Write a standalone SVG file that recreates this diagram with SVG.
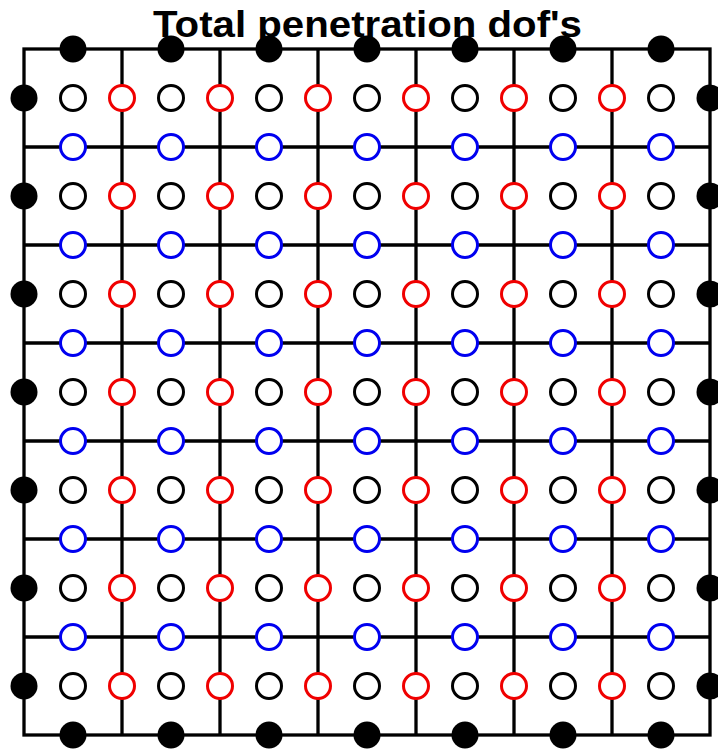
<svg xmlns="http://www.w3.org/2000/svg" width="718" height="749" viewBox="0 0 718 749">
<style>
.ln{stroke:#000;stroke-width:3.3;fill:none}
.f{fill:#000}
.k{fill:#fff;stroke:#000;stroke-width:3}
.r{fill:#fff;stroke:#f00000;stroke-width:3}
.b{fill:#fff;stroke:#0000f0;stroke-width:3}
.t{font-family:"Liberation Sans",Arial,sans-serif;font-weight:bold;font-size:37px;fill:#000}
</style>
<rect width="718" height="749" fill="#fff"/>
<g id="connectors">
<rect class="ln" x="24" y="49" width="686" height="686"/>
<path class="ln" d="M122 49V735M220 49V735M318 49V735M416 49V735M514 49V735M612 49V735M24 147H710M24 245H710M24 343H710M24 441H710M24 539H710M24 637H710"/>
</g>
<g id="nodes-top">
<g id="t1"><circle class="f" cx="73" cy="49" r="13.5"/></g>
<g id="t2"><circle class="f" cx="171" cy="49" r="13.5"/></g>
<g id="t3"><circle class="f" cx="269" cy="49" r="13.5"/></g>
<g id="t4"><circle class="f" cx="367" cy="49" r="13.5"/></g>
<g id="t5"><circle class="f" cx="465" cy="49" r="13.5"/></g>
<g id="t6"><circle class="f" cx="563" cy="49" r="13.5"/></g>
<g id="t7"><circle class="f" cx="661" cy="49" r="13.5"/></g>
</g>
<g id="nodes-bottom">
<g id="bt1"><circle class="f" cx="73" cy="735" r="13.5"/></g>
<g id="bt2"><circle class="f" cx="171" cy="735" r="13.5"/></g>
<g id="bt3"><circle class="f" cx="269" cy="735" r="13.5"/></g>
<g id="bt4"><circle class="f" cx="367" cy="735" r="13.5"/></g>
<g id="bt5"><circle class="f" cx="465" cy="735" r="13.5"/></g>
<g id="bt6"><circle class="f" cx="563" cy="735" r="13.5"/></g>
<g id="bt7"><circle class="f" cx="661" cy="735" r="13.5"/></g>
</g>
<g id="nodes-left">
<g id="l1"><circle class="f" cx="24" cy="98" r="13.5"/></g>
<g id="l2"><circle class="f" cx="24" cy="196" r="13.5"/></g>
<g id="l3"><circle class="f" cx="24" cy="294" r="13.5"/></g>
<g id="l4"><circle class="f" cx="24" cy="392" r="13.5"/></g>
<g id="l5"><circle class="f" cx="24" cy="490" r="13.5"/></g>
<g id="l6"><circle class="f" cx="24" cy="588" r="13.5"/></g>
<g id="l7"><circle class="f" cx="24" cy="686" r="13.5"/></g>
</g>
<g id="nodes-right">
<g id="rt1"><circle class="f" cx="710" cy="98" r="13.5"/></g>
<g id="rt2"><circle class="f" cx="710" cy="196" r="13.5"/></g>
<g id="rt3"><circle class="f" cx="710" cy="294" r="13.5"/></g>
<g id="rt4"><circle class="f" cx="710" cy="392" r="13.5"/></g>
<g id="rt5"><circle class="f" cx="710" cy="490" r="13.5"/></g>
<g id="rt6"><circle class="f" cx="710" cy="588" r="13.5"/></g>
<g id="rt7"><circle class="f" cx="710" cy="686" r="13.5"/></g>
</g>
<g id="nodes-black">
<g id="k1-1"><circle class="k" cx="73" cy="98" r="12.5"/></g><g id="k1-2"><circle class="k" cx="171" cy="98" r="12.5"/></g><g id="k1-3"><circle class="k" cx="269" cy="98" r="12.5"/></g><g id="k1-4"><circle class="k" cx="367" cy="98" r="12.5"/></g><g id="k1-5"><circle class="k" cx="465" cy="98" r="12.5"/></g><g id="k1-6"><circle class="k" cx="563" cy="98" r="12.5"/></g><g id="k1-7"><circle class="k" cx="661" cy="98" r="12.5"/></g>
<g id="k2-1"><circle class="k" cx="73" cy="196" r="12.5"/></g><g id="k2-2"><circle class="k" cx="171" cy="196" r="12.5"/></g><g id="k2-3"><circle class="k" cx="269" cy="196" r="12.5"/></g><g id="k2-4"><circle class="k" cx="367" cy="196" r="12.5"/></g><g id="k2-5"><circle class="k" cx="465" cy="196" r="12.5"/></g><g id="k2-6"><circle class="k" cx="563" cy="196" r="12.5"/></g><g id="k2-7"><circle class="k" cx="661" cy="196" r="12.5"/></g>
<g id="k3-1"><circle class="k" cx="73" cy="294" r="12.5"/></g><g id="k3-2"><circle class="k" cx="171" cy="294" r="12.5"/></g><g id="k3-3"><circle class="k" cx="269" cy="294" r="12.5"/></g><g id="k3-4"><circle class="k" cx="367" cy="294" r="12.5"/></g><g id="k3-5"><circle class="k" cx="465" cy="294" r="12.5"/></g><g id="k3-6"><circle class="k" cx="563" cy="294" r="12.5"/></g><g id="k3-7"><circle class="k" cx="661" cy="294" r="12.5"/></g>
<g id="k4-1"><circle class="k" cx="73" cy="392" r="12.5"/></g><g id="k4-2"><circle class="k" cx="171" cy="392" r="12.5"/></g><g id="k4-3"><circle class="k" cx="269" cy="392" r="12.5"/></g><g id="k4-4"><circle class="k" cx="367" cy="392" r="12.5"/></g><g id="k4-5"><circle class="k" cx="465" cy="392" r="12.5"/></g><g id="k4-6"><circle class="k" cx="563" cy="392" r="12.5"/></g><g id="k4-7"><circle class="k" cx="661" cy="392" r="12.5"/></g>
<g id="k5-1"><circle class="k" cx="73" cy="490" r="12.5"/></g><g id="k5-2"><circle class="k" cx="171" cy="490" r="12.5"/></g><g id="k5-3"><circle class="k" cx="269" cy="490" r="12.5"/></g><g id="k5-4"><circle class="k" cx="367" cy="490" r="12.5"/></g><g id="k5-5"><circle class="k" cx="465" cy="490" r="12.5"/></g><g id="k5-6"><circle class="k" cx="563" cy="490" r="12.5"/></g><g id="k5-7"><circle class="k" cx="661" cy="490" r="12.5"/></g>
<g id="k6-1"><circle class="k" cx="73" cy="588" r="12.5"/></g><g id="k6-2"><circle class="k" cx="171" cy="588" r="12.5"/></g><g id="k6-3"><circle class="k" cx="269" cy="588" r="12.5"/></g><g id="k6-4"><circle class="k" cx="367" cy="588" r="12.5"/></g><g id="k6-5"><circle class="k" cx="465" cy="588" r="12.5"/></g><g id="k6-6"><circle class="k" cx="563" cy="588" r="12.5"/></g><g id="k6-7"><circle class="k" cx="661" cy="588" r="12.5"/></g>
<g id="k7-1"><circle class="k" cx="73" cy="686" r="12.5"/></g><g id="k7-2"><circle class="k" cx="171" cy="686" r="12.5"/></g><g id="k7-3"><circle class="k" cx="269" cy="686" r="12.5"/></g><g id="k7-4"><circle class="k" cx="367" cy="686" r="12.5"/></g><g id="k7-5"><circle class="k" cx="465" cy="686" r="12.5"/></g><g id="k7-6"><circle class="k" cx="563" cy="686" r="12.5"/></g><g id="k7-7"><circle class="k" cx="661" cy="686" r="12.5"/></g>
</g>
<g id="nodes-red">
<g id="r1-1"><circle class="r" cx="122" cy="98" r="12.5"/></g><g id="r1-2"><circle class="r" cx="220" cy="98" r="12.5"/></g><g id="r1-3"><circle class="r" cx="318" cy="98" r="12.5"/></g><g id="r1-4"><circle class="r" cx="416" cy="98" r="12.5"/></g><g id="r1-5"><circle class="r" cx="514" cy="98" r="12.5"/></g><g id="r1-6"><circle class="r" cx="612" cy="98" r="12.5"/></g>
<g id="r2-1"><circle class="r" cx="122" cy="196" r="12.5"/></g><g id="r2-2"><circle class="r" cx="220" cy="196" r="12.5"/></g><g id="r2-3"><circle class="r" cx="318" cy="196" r="12.5"/></g><g id="r2-4"><circle class="r" cx="416" cy="196" r="12.5"/></g><g id="r2-5"><circle class="r" cx="514" cy="196" r="12.5"/></g><g id="r2-6"><circle class="r" cx="612" cy="196" r="12.5"/></g>
<g id="r3-1"><circle class="r" cx="122" cy="294" r="12.5"/></g><g id="r3-2"><circle class="r" cx="220" cy="294" r="12.5"/></g><g id="r3-3"><circle class="r" cx="318" cy="294" r="12.5"/></g><g id="r3-4"><circle class="r" cx="416" cy="294" r="12.5"/></g><g id="r3-5"><circle class="r" cx="514" cy="294" r="12.5"/></g><g id="r3-6"><circle class="r" cx="612" cy="294" r="12.5"/></g>
<g id="r4-1"><circle class="r" cx="122" cy="392" r="12.5"/></g><g id="r4-2"><circle class="r" cx="220" cy="392" r="12.5"/></g><g id="r4-3"><circle class="r" cx="318" cy="392" r="12.5"/></g><g id="r4-4"><circle class="r" cx="416" cy="392" r="12.5"/></g><g id="r4-5"><circle class="r" cx="514" cy="392" r="12.5"/></g><g id="r4-6"><circle class="r" cx="612" cy="392" r="12.5"/></g>
<g id="r5-1"><circle class="r" cx="122" cy="490" r="12.5"/></g><g id="r5-2"><circle class="r" cx="220" cy="490" r="12.5"/></g><g id="r5-3"><circle class="r" cx="318" cy="490" r="12.5"/></g><g id="r5-4"><circle class="r" cx="416" cy="490" r="12.5"/></g><g id="r5-5"><circle class="r" cx="514" cy="490" r="12.5"/></g><g id="r5-6"><circle class="r" cx="612" cy="490" r="12.5"/></g>
<g id="r6-1"><circle class="r" cx="122" cy="588" r="12.5"/></g><g id="r6-2"><circle class="r" cx="220" cy="588" r="12.5"/></g><g id="r6-3"><circle class="r" cx="318" cy="588" r="12.5"/></g><g id="r6-4"><circle class="r" cx="416" cy="588" r="12.5"/></g><g id="r6-5"><circle class="r" cx="514" cy="588" r="12.5"/></g><g id="r6-6"><circle class="r" cx="612" cy="588" r="12.5"/></g>
<g id="r7-1"><circle class="r" cx="122" cy="686" r="12.5"/></g><g id="r7-2"><circle class="r" cx="220" cy="686" r="12.5"/></g><g id="r7-3"><circle class="r" cx="318" cy="686" r="12.5"/></g><g id="r7-4"><circle class="r" cx="416" cy="686" r="12.5"/></g><g id="r7-5"><circle class="r" cx="514" cy="686" r="12.5"/></g><g id="r7-6"><circle class="r" cx="612" cy="686" r="12.5"/></g>
</g>
<g id="nodes-blue">
<g id="b1-1"><circle class="b" cx="73" cy="147" r="12.5"/></g><g id="b1-2"><circle class="b" cx="171" cy="147" r="12.5"/></g><g id="b1-3"><circle class="b" cx="269" cy="147" r="12.5"/></g><g id="b1-4"><circle class="b" cx="367" cy="147" r="12.5"/></g><g id="b1-5"><circle class="b" cx="465" cy="147" r="12.5"/></g><g id="b1-6"><circle class="b" cx="563" cy="147" r="12.5"/></g><g id="b1-7"><circle class="b" cx="661" cy="147" r="12.5"/></g>
<g id="b2-1"><circle class="b" cx="73" cy="245" r="12.5"/></g><g id="b2-2"><circle class="b" cx="171" cy="245" r="12.5"/></g><g id="b2-3"><circle class="b" cx="269" cy="245" r="12.5"/></g><g id="b2-4"><circle class="b" cx="367" cy="245" r="12.5"/></g><g id="b2-5"><circle class="b" cx="465" cy="245" r="12.5"/></g><g id="b2-6"><circle class="b" cx="563" cy="245" r="12.5"/></g><g id="b2-7"><circle class="b" cx="661" cy="245" r="12.5"/></g>
<g id="b3-1"><circle class="b" cx="73" cy="343" r="12.5"/></g><g id="b3-2"><circle class="b" cx="171" cy="343" r="12.5"/></g><g id="b3-3"><circle class="b" cx="269" cy="343" r="12.5"/></g><g id="b3-4"><circle class="b" cx="367" cy="343" r="12.5"/></g><g id="b3-5"><circle class="b" cx="465" cy="343" r="12.5"/></g><g id="b3-6"><circle class="b" cx="563" cy="343" r="12.5"/></g><g id="b3-7"><circle class="b" cx="661" cy="343" r="12.5"/></g>
<g id="b4-1"><circle class="b" cx="73" cy="441" r="12.5"/></g><g id="b4-2"><circle class="b" cx="171" cy="441" r="12.5"/></g><g id="b4-3"><circle class="b" cx="269" cy="441" r="12.5"/></g><g id="b4-4"><circle class="b" cx="367" cy="441" r="12.5"/></g><g id="b4-5"><circle class="b" cx="465" cy="441" r="12.5"/></g><g id="b4-6"><circle class="b" cx="563" cy="441" r="12.5"/></g><g id="b4-7"><circle class="b" cx="661" cy="441" r="12.5"/></g>
<g id="b5-1"><circle class="b" cx="73" cy="539" r="12.5"/></g><g id="b5-2"><circle class="b" cx="171" cy="539" r="12.5"/></g><g id="b5-3"><circle class="b" cx="269" cy="539" r="12.5"/></g><g id="b5-4"><circle class="b" cx="367" cy="539" r="12.5"/></g><g id="b5-5"><circle class="b" cx="465" cy="539" r="12.5"/></g><g id="b5-6"><circle class="b" cx="563" cy="539" r="12.5"/></g><g id="b5-7"><circle class="b" cx="661" cy="539" r="12.5"/></g>
<g id="b6-1"><circle class="b" cx="73" cy="637" r="12.5"/></g><g id="b6-2"><circle class="b" cx="171" cy="637" r="12.5"/></g><g id="b6-3"><circle class="b" cx="269" cy="637" r="12.5"/></g><g id="b6-4"><circle class="b" cx="367" cy="637" r="12.5"/></g><g id="b6-5"><circle class="b" cx="465" cy="637" r="12.5"/></g><g id="b6-6"><circle class="b" cx="563" cy="637" r="12.5"/></g><g id="b6-7"><circle class="b" cx="661" cy="637" r="12.5"/></g>
</g>
<g id="title">
<text class="t" x="153" y="37" textLength="429" lengthAdjust="spacingAndGlyphs">Total penetration dof's</text>
</g>
</svg>
